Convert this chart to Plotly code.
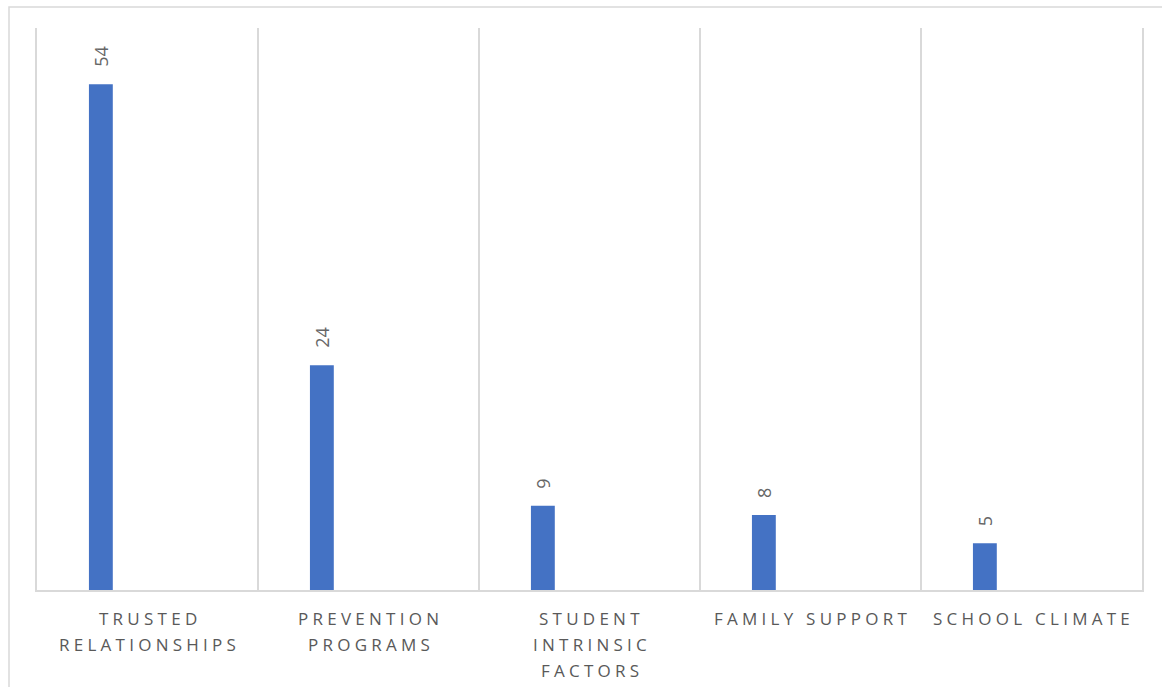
import plotly.graph_objects as go

categories = ["TRUSTED RELATIONSHIPS", "PREVENTION PROGRAMS", "STUDENT INTRINSIC FACTORS",
              "FAMILY SUPPORT", "SCHOOL CLIMATE"]
category_lines = [["TRUSTED", "RELATIONSHIPS"], ["PREVENTION", "PROGRAMS"],
                  ["STUDENT", "INTRINSIC", "FACTORS"], ["FAMILY SUPPORT"], ["SCHOOL CLIMATE"]]
values = [54, 24, 9, 8, 5]

GRID = "#d9d9d9"
TEXT = "#595959"
SP = "\u2005"


def spaced(s):
    return SP.join(list(s))


fig = go.Figure()
fig.add_trace(go.Bar(
    x=categories, y=values, marker=dict(color="#4472C4", line=dict(width=0)),
    width=0.108, offset=-0.265, hoverinfo="x+y",
))

annotations = []
for cat, v in zip(categories, values):
    annotations.append(dict(
        x=cat, y=v, xref="x", yref="y", text=str(v), showarrow=False,
        textangle=-90, yanchor="bottom", xanchor="center", xshift=-46.5, yshift=15,
        font=dict(family="Open Sans", size=18, color="#666666"),
    ))
for cat, lines in zip(categories, category_lines):
    for i, line in enumerate(lines):
        annotations.append(dict(
            x=cat, y=0, xref="x", yref="paper", text=spaced(line), showarrow=False,
            yanchor="middle", xanchor="center", yshift=-(28 + 26 * i),
            font=dict(family="Open Sans", size=17, color=TEXT),
        ))

fig.update_layout(
    width=1162, height=687,
    margin=dict(l=37, r=20, t=28, b=97),
    paper_bgcolor="white", plot_bgcolor="white",
    showlegend=False,
    annotations=annotations,
    shapes=[dict(type="rect", xref="paper", yref="paper",
                 x0=-28 / 1105, x1=1.2, y0=-0.4, y1=1 + 21 / 562,
                 line=dict(color=GRID, width=1.5), layer="below")],
    xaxis=dict(
        type="category", range=[-0.5, 4.5], tickson="boundaries",
        showgrid=True, gridcolor=GRID, gridwidth=1.5,
        showticklabels=False, ticks="", showline=True, linecolor=GRID, linewidth=1.5,
        zeroline=False,
    ),
    yaxis=dict(
        range=[0, 60], showgrid=False, showticklabels=False, ticks="",
        showline=True, mirror=True, linecolor=GRID, linewidth=1.5, zeroline=False,
    ),
)

fig.write_html("out.html")
